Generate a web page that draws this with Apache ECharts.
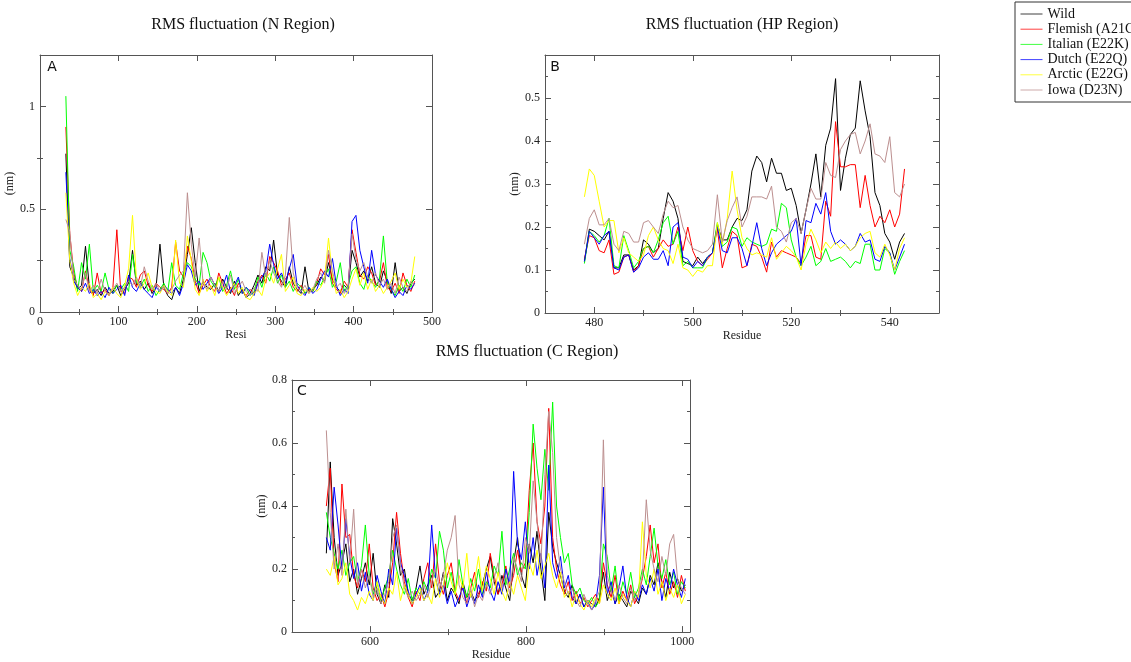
<!DOCTYPE html>
<html>
<head>
<meta charset="utf-8" />
<title>RMS fluctuation</title>
<script type="text/javascript" src="https://cdn.jsdelivr.net/npm/echarts@6/dist/echarts.min.js"></script>
</head>
<body style="margin:0; background:#fff;">
<div id="container" style="width:1131px; height:662px;"></div>
<script type="text/javascript">
// series names and colours (Grace defaults)
var names = ['Wild', 'Flemish (A21G)', 'Italian (E22K)', 'Dutch (E22Q)', 'Arctic (E22G)', 'Iowa (D23N)'];
var colors = ['#000000', '#ff0000', '#00ff00', '#0000ff', '#ffff00', '#bc8f8f'];

// ---- panel A : N region ----
var resA = [33,38,43,48,53,58,63,68,73,78,83,88,93,98,103,108,113,118,123,128,133,138,143,148,153,158,163,168,173,178,
  183,188,193,198,203,208,213,218,223,228,233,238,243,248,253,258,263,268,273,278,283,288,293,298,303,308,313,318,323,328,
  333,338,343,348,353,358,363,368,373,378,383,388,393,398,403,408,413,418,423,428,433,438,443,448,453,458,463,468,473,478];
var wildA = [0.77,0.22,0.17,0.11,0.13,0.32,0.12,0.09,0.11,0.08, 0.12,0.09,0.10,0.13,0.08,0.11,0.14,0.30,0.13,0.15,
  0.11,0.14,0.09,0.12,0.33,0.12,0.08,0.06,0.12,0.09, 0.16,0.28,0.41,0.24,0.10,0.15,0.12,0.11,0.14,0.10,
  0.16,0.12,0.09,0.15,0.08,0.11,0.07,0.09,0.13,0.18, 0.14,0.22,0.20,0.35,0.18,0.15,0.12,0.22,0.14,0.11,
  0.09,0.22,0.10,0.11,0.13,0.17,0.15,0.24,0.16,0.12, 0.10,0.13,0.11,0.30,0.24,0.17,0.20,0.15,0.22,0.14,
  0.12,0.20,0.15,0.09,0.24,0.10,0.12,0.09,0.14,0.16];
var flemishA = [0.90,0.38,0.19,0.12,0.10,0.20,0.11,0.08,0.19,0.09, 0.11,0.08,0.12,0.40,0.10,0.09,0.17,0.16,0.12,0.18,
  0.20,0.13,0.10,0.14,0.12,0.11,0.09,0.12,0.34,0.20, 0.17,0.32,0.26,0.15,0.09,0.13,0.16,0.12,0.10,0.19,
  0.14,0.09,0.12,0.08,0.14,0.10,0.08,0.11,0.09,0.15, 0.18,0.14,0.27,0.24,0.20,0.13,0.16,0.19,0.12,0.10,
  0.13,0.09,0.11,0.10,0.14,0.21,0.18,0.28,0.14,0.11, 0.09,0.15,0.12,0.40,0.29,0.18,0.16,0.22,0.19,0.13,
  0.15,0.24,0.12,0.10,0.14,0.09,0.19,0.13,0.10,0.15];
var italianA = [1.05,0.30,0.22,0.10,0.24,0.16,0.33,0.10,0.13,0.10, 0.19,0.11,0.09,0.13,0.11,0.14,0.10,0.28,0.15,0.12,
  0.16,0.10,0.13,0.08,0.11,0.14,0.10,0.24,0.13,0.11, 0.19,0.24,0.22,0.16,0.13,0.29,0.24,0.15,0.12,0.17,
  0.10,0.13,0.20,0.11,0.16,0.09,0.12,0.08,0.10,0.17, 0.12,0.19,0.15,0.22,0.14,0.18,0.12,0.15,0.10,0.14,
  0.12,0.09,0.12,0.10,0.15,0.13,0.17,0.21,0.12,0.15, 0.24,0.10,0.13,0.20,0.22,0.14,0.11,0.18,0.15,0.12,
  0.16,0.37,0.14,0.11,0.08,0.13,0.10,0.16,0.12,0.18];
var dutchA = [0.68,0.26,0.15,0.12,0.10,0.14,0.09,0.11,0.08,0.10, 0.07,0.12,0.09,0.11,0.13,0.08,0.18,0.12,0.10,0.14,
  0.11,0.09,0.07,0.12,0.10,0.13,0.11,0.09,0.12,0.08, 0.14,0.23,0.20,0.13,0.15,0.11,0.14,0.17,0.13,0.09,
  0.12,0.18,0.10,0.13,0.17,0.09,0.12,0.10,0.08,0.14, 0.17,0.20,0.33,0.23,0.16,0.19,0.14,0.21,0.28,0.13,
  0.10,0.08,0.12,0.09,0.11,0.16,0.20,0.17,0.26,0.13, 0.08,0.11,0.09,0.44,0.47,0.30,0.22,0.14,0.30,0.18,
  0.15,0.12,0.16,0.11,0.07,0.10,0.08,0.13,0.11,0.14];
var arcticA = [0.58,0.25,0.14,0.08,0.12,0.10,0.14,0.07,0.09,0.06, 0.10,0.08,0.12,0.09,0.07,0.13,0.21,0.47,0.16,0.11,
  0.14,0.19,0.12,0.10,0.09,0.13,0.10,0.08,0.35,0.14, 0.12,0.37,0.25,0.11,0.08,0.16,0.10,0.13,0.08,0.17,
  0.12,0.08,0.11,0.14,0.09,0.12,0.07,0.06,0.09,0.11, 0.08,0.16,0.19,0.14,0.21,0.28,0.10,0.13,0.17,0.09,
  0.08,0.11,0.09,0.12,0.10,0.12,0.16,0.36,0.18,0.09, 0.11,0.07,0.10,0.16,0.21,0.13,0.19,0.11,0.16,0.10,
  0.13,0.09,0.12,0.15,0.19,0.11,0.16,0.12,0.14,0.27];
var iowaA = [0.45,0.39,0.16,0.13,0.11,0.19,0.10,0.13,0.09,0.16, 0.10,0.08,0.11,0.14,0.10,0.12,0.15,0.13,0.17,0.12,
  0.22,0.15,0.11,0.14,0.10,0.12,0.09,0.11,0.15,0.18, 0.20,0.58,0.33,0.17,0.36,0.14,0.11,0.17,0.13,0.10,
  0.15,0.11,0.18,0.09,0.12,0.15,0.10,0.08,0.12,0.10, 0.29,0.17,0.25,0.19,0.15,0.12,0.18,0.46,0.19,0.12,
  0.10,0.13,0.09,0.11,0.16,0.19,0.14,0.30,0.20,0.12, 0.14,0.09,0.12,0.38,0.26,0.20,0.24,0.17,0.14,0.19,
  0.13,0.16,0.11,0.14,0.09,0.17,0.12,0.10,0.15,0.13];

// ---- panel B : HP region ----
var resB = [478,479,480,481,482,483,484,485,486,487,488,489,490,491,492,493,494,495,496,497,498,499,500,501,502,503,504,505,
  506,507,508,509,510,511,512,513,514,515,516,517,518,519,520,521,522,523,524,525,526,527,528,529,530,531,532,533,534,535,
  536,537,538,539,540,541,542,543];
var wildB = [0.12,0.195,0.19,0.18,0.17,0.19,0.105,0.105,0.135,0.135, 0.10,0.11,0.17,0.16,0.14,0.15,0.22,0.28,0.26,0.22,
  0.12,0.115,0.11,0.13,0.115,0.13,0.14,0.205,0.17,0.17, 0.20,0.22,0.215,0.24,0.33,0.365,0.35,0.305,0.36,0.325,
  0.325,0.285,0.29,0.25,0.185,0.24,0.30,0.37,0.27,0.39, 0.43,0.545,0.285,0.36,0.415,0.43,0.54,0.47,0.41,0.28,
  0.25,0.185,0.165,0.125,0.165,0.185];
var flemishB = [0.125,0.18,0.175,0.145,0.14,0.17,0.09,0.095,0.13,0.135, 0.095,0.11,0.15,0.155,0.13,0.15,0.17,0.155,0.16,0.20,
  0.145,0.20,0.145,0.12,0.11,0.125,0.14,0.195,0.105,0.15, 0.19,0.18,0.105,0.11,0.16,0.155,0.13,0.095,0.165,0.13,
  0.145,0.14,0.135,0.13,0.115,0.18,0.18,0.13,0.125,0.26, 0.225,0.445,0.34,0.34,0.345,0.345,0.245,0.32,0.25,0.20,
  0.225,0.21,0.24,0.20,0.23,0.335];
var italianB = [0.115,0.19,0.18,0.165,0.18,0.22,0.11,0.105,0.18,0.145, 0.105,0.12,0.15,0.155,0.14,0.17,0.21,0.225,0.16,0.19,
  0.11,0.12,0.105,0.105,0.105,0.13,0.14,0.21,0.155,0.165, 0.20,0.195,0.155,0.175,0.165,0.16,0.155,0.16,0.195,0.19,
  0.255,0.245,0.17,0.13,0.11,0.13,0.155,0.11,0.12,0.15, 0.12,0.125,0.13,0.12,0.105,0.12,0.115,0.16,0.16,0.10,
  0.10,0.15,0.14,0.09,0.12,0.145];
var dutchB = [0.12,0.19,0.175,0.16,0.18,0.19,0.105,0.10,0.13,0.135, 0.095,0.105,0.13,0.14,0.125,0.125,0.145,0.11,0.20,0.21,
  0.13,0.125,0.105,0.12,0.11,0.13,0.14,0.20,0.145,0.14, 0.175,0.175,0.15,0.11,0.155,0.21,0.15,0.11,0.14,0.16,
  0.17,0.18,0.19,0.22,0.11,0.215,0.21,0.255,0.23,0.28, 0.19,0.16,0.17,0.16,0.145,0.155,0.185,0.165,0.17,0.125,
  0.12,0.155,0.14,0.10,0.13,0.16];
var arcticB = [0.27,0.335,0.32,0.26,0.20,0.215,0.215,0.14,0.175,0.14, 0.13,0.12,0.135,0.18,0.20,0.17,0.15,0.145,0.115,0.16,
  0.105,0.10,0.085,0.10,0.095,0.11,0.11,0.21,0.16,0.22, 0.33,0.24,0.175,0.15,0.135,0.14,0.135,0.13,0.175,0.125,
  0.14,0.155,0.145,0.13,0.10,0.16,0.195,0.17,0.14,0.165, 0.15,0.165,0.15,0.16,0.145,0.155,0.175,0.185,0.19,0.14,
  0.13,0.16,0.135,0.10,0.15,0.175];
var iowaB = [0.16,0.22,0.24,0.205,0.205,0.22,0.16,0.145,0.19,0.185, 0.165,0.165,0.21,0.215,0.20,0.185,0.23,0.26,0.245,0.25,
  0.20,0.17,0.15,0.145,0.14,0.145,0.16,0.275,0.165,0.215, 0.245,0.27,0.20,0.225,0.27,0.27,0.27,0.265,0.295,0.20,
  0.19,0.165,0.21,0.22,0.185,0.24,0.29,0.265,0.265,0.35, 0.32,0.315,0.38,0.40,0.415,0.42,0.37,0.40,0.44,0.37,
  0.365,0.35,0.41,0.28,0.27,0.30];

// ---- panel C : C region ----
var resC = [544,549,554,559,564,569,574,579,584,589,594,599,604,609,614,619,624,629,634,639,644,649,654,659,664,669,674,679,
  684,689,694,699,704,709,714,719,724,729,734,739,744,749,754,759,764,769,774,779,784,789,794,799,804,809,814,819,824,829,
  834,839,844,849,854,859,864,869,874,879,884,889,894,899,904,909,914,919,924,929,934,939,944,949,954,959,964,969,974,979,
  984,989,994,999,1004];
var wildC = [0.25,0.54,0.30,0.18,0.22,0.28,0.16,0.20,0.12,0.17, 0.22,0.15,0.25,0.12,0.09,0.15,0.11,0.36,0.28,0.18,
  0.20,0.12,0.10,0.14,0.21,0.12,0.15,0.18,0.11,0.13, 0.19,0.10,0.14,0.12,0.09,0.16,0.11,0.13,0.10,0.12,
  0.15,0.20,0.24,0.16,0.12,0.18,0.14,0.10,0.22,0.30, 0.18,0.14,0.28,0.22,0.32,0.20,0.10,0.38,0.27,0.22,
  0.18,0.13,0.11,0.15,0.09,0.12,0.08,0.10,0.09,0.08, 0.11,0.19,0.10,0.14,0.09,0.12,0.10,0.08,0.13,0.11,
  0.09,0.14,0.12,0.18,0.15,0.22,0.16,0.11,0.19,0.14, 0.17,0.13,0.15];
var flemishC = [0.40,0.52,0.22,0.16,0.47,0.30,0.31,0.18,0.14,0.20, 0.16,0.28,0.14,0.10,0.12,0.08,0.13,0.22,0.38,0.25,
  0.16,0.11,0.08,0.13,0.10,0.17,0.22,0.14,0.28,0.16, 0.12,0.18,0.22,0.13,0.10,0.15,0.09,0.14,0.19,0.11,
  0.16,0.13,0.25,0.18,0.12,0.15,0.21,0.14,0.18,0.26, 0.19,0.22,0.45,0.60,0.35,0.28,0.40,0.71,0.30,0.20,
  0.15,0.12,0.16,0.10,0.13,0.09,0.11,0.08,0.10,0.12, 0.09,0.22,0.15,0.11,0.18,0.09,0.13,0.10,0.15,0.09,
  0.12,0.17,0.24,0.34,0.22,0.28,0.14,0.19,0.12,0.16, 0.11,0.18,0.13];
var italianC = [0.38,0.30,0.25,0.20,0.26,0.18,0.22,0.24,0.16,0.21, 0.34,0.18,0.12,0.16,0.10,0.14,0.18,0.26,0.20,0.15,
  0.12,0.17,0.10,0.14,0.12,0.16,0.13,0.20,0.17,0.32, 0.26,0.14,0.19,0.12,0.23,0.15,0.11,0.17,0.13,0.20,
  0.12,0.16,0.14,0.21,0.18,0.32,0.15,0.20,0.25,0.18, 0.22,0.20,0.38,0.66,0.52,0.42,0.58,0.45,0.73,0.40,
  0.30,0.22,0.25,0.15,0.12,0.14,0.10,0.09,0.11,0.08, 0.10,0.28,0.24,0.13,0.21,0.10,0.16,0.12,0.19,0.11,
  0.14,0.20,0.15,0.24,0.33,0.21,0.17,0.23,0.15,0.19, 0.12,0.16,0.14];
var dutchC = [0.30,0.26,0.46,0.34,0.20,0.36,0.24,0.17,0.22,0.13, 0.19,0.12,0.10,0.18,0.13,0.09,0.20,0.15,0.33,0.22,
  0.18,0.13,0.09,0.12,0.15,0.10,0.13,0.34,0.17,0.12, 0.15,0.09,0.13,0.08,0.11,0.14,0.08,0.12,0.09,0.15,
  0.11,0.19,0.13,0.10,0.16,0.12,0.20,0.15,0.51,0.28, 0.23,0.35,0.20,0.30,0.18,0.25,0.14,0.53,0.22,0.17,
  0.24,0.14,0.18,0.11,0.09,0.12,0.08,0.10,0.07,0.09, 0.18,0.46,0.12,0.16,0.09,0.14,0.21,0.11,0.08,0.13,
  0.10,0.15,0.12,0.17,0.13,0.20,0.10,0.17,0.13,0.20, 0.15,0.11,0.17];
var arcticC = [0.20,0.18,0.24,0.15,0.17,0.22,0.12,0.10,0.07,0.11, 0.09,0.13,0.10,0.16,0.11,0.09,0.14,0.12,0.19,0.10,
  0.15,0.12,0.09,0.11,0.14,0.10,0.12,0.09,0.17,0.11, 0.15,0.22,0.16,0.12,0.18,0.14,0.25,0.11,0.16,0.24,
  0.13,0.21,0.17,0.12,0.19,0.13,0.10,0.16,0.12,0.18, 0.14,0.10,0.22,0.18,0.26,0.17,0.21,0.25,0.18,0.14,
  0.19,0.11,0.13,0.08,0.12,0.09,0.07,0.10,0.08,0.11, 0.09,0.15,0.12,0.10,0.14,0.09,0.12,0.10,0.08,0.13,
  0.11,0.35,0.18,0.14,0.20,0.12,0.16,0.10,0.14,0.11, 0.15,0.09,0.12];
var iowaC = [0.64,0.38,0.20,0.28,0.18,0.39,0.22,0.39,0.15,0.20, 0.14,0.18,0.11,0.14,0.09,0.12,0.16,0.30,0.34,0.21,
  0.14,0.11,0.13,0.10,0.12,0.15,0.11,0.16,0.20,0.14, 0.18,0.26,0.30,0.37,0.15,0.11,0.09,0.14,0.08,0.12,
  0.10,0.15,0.12,0.17,0.22,0.14,0.18,0.12,0.24,0.20, 0.16,0.30,0.25,0.48,0.35,0.22,0.50,0.70,0.57,0.30,
  0.20,0.16,0.12,0.14,0.10,0.08,0.12,0.09,0.07,0.10, 0.13,0.61,0.18,0.13,0.10,0.15,0.11,0.09,0.14,0.10,
  0.12,0.18,0.42,0.26,0.20,0.16,0.24,0.18,0.28,0.31, 0.17,0.14,0.12];

var serif = '"Liberation Serif", "DejaVu Serif", "Times New Roman", serif';
var frame = '#555';

// four axes per dimension: main line + major ticks, minor ticks, mirrored on the opposite side
function boxAxes(dim, grid, min, max, major, minor, labels, name, nameGap) {
  var sides = dim === 'x' ? ['bottom', 'top'] : ['left', 'right'];
  var out = [];
  sides.forEach(function (side, k) {
    out.push({
      type: 'value', gridIndex: grid, position: side, min: min, max: max,
      splitLine: { show: false },
      axisLine: { show: true, onZero: false, lineStyle: { color: frame, width: 1 } },
      axisTick: { show: true, inside: true, length: 6, customValues: major, lineStyle: { color: frame } },
      axisLabel: k === 0 ? {
        show: true, customValues: labels, color: '#222', fontFamily: serif, fontSize: 12,
        margin: dim === 'x' ? 4 : 5,
        formatter: function (v) { return String(v); }
      } : { show: false },
      name: k === 0 ? name : '',
      nameLocation: 'middle',
      nameGap: nameGap,
      nameTextStyle: { fontFamily: serif, fontSize: 12, color: '#222' }
    });
    out.push({
      type: 'value', gridIndex: grid, position: side, min: min, max: max,
      splitLine: { show: false },
      axisLine: { show: false },
      axisTick: { show: true, inside: true, length: 3, customValues: minor, lineStyle: { color: frame } },
      axisLabel: { show: false }
    });
  });
  return out;
}

var xAxes = [].concat(
  boxAxes('x', 0, 0, 500, [0, 100, 200, 300, 400, 500], [50, 150, 250, 350, 450], [0, 100, 200, 300, 400, 500], 'Resi', 12),
  boxAxes('x', 1, 470, 550, [480, 500, 520, 540], [490, 510, 530], [480, 500, 520, 540], 'Residue', 12),
  boxAxes('x', 2, 500, 1010, [600, 800, 1000], [700, 900], [600, 800, 1000], 'Residue', 11)
);
var yAxes = [].concat(
  boxAxes('y', 0, 0, 1.25, [0, 0.5, 1], [0.25, 0.75], [0, 0.5, 1], '(nm)', 19),
  boxAxes('y', 1, 0, 0.6, [0, 0.1, 0.2, 0.3, 0.4, 0.5], [0.05, 0.15, 0.25, 0.35, 0.45, 0.55], [0, 0.1, 0.2, 0.3, 0.4, 0.5], '(nm)', 19),
  boxAxes('y', 2, 0, 0.8, [0, 0.2, 0.4, 0.6, 0.8], [0.1, 0.3, 0.5, 0.7], [0, 0.2, 0.4, 0.6, 0.8], '(nm)', 18)
);

var panels = [
  { axis: 0, res: resA, vals: [wildA, flemishA, italianA, dutchA, arcticA, iowaA] },
  { axis: 4, res: resB, vals: [wildB, flemishB, italianB, dutchB, arcticB, iowaB] },
  { axis: 8, res: resC, vals: [wildC, flemishC, italianC, dutchC, arcticC, iowaC] }
];

var series = [];
panels.forEach(function (p) {
  p.vals.forEach(function (vals, k) {
    series.push({
      type: 'line',
      name: names[k],
      xAxisIndex: p.axis,
      yAxisIndex: p.axis,
      symbol: 'none',
      lineStyle: { width: 1, color: colors[k] },
      itemStyle: { color: colors[k] },
      data: p.res.map(function (r, i) { return [r, vals[i]]; })
    });
  });
});

function textEl(x, y, text, font, size) {
  return {
    type: 'text', x: x, y: y,
    style: { text: text, fontFamily: font, fontSize: size, fill: '#111', textAlign: 'center', textVerticalAlign: 'middle' }
  };
}

var chart = echarts.init(document.getElementById('container'));
chart.setOption({
  backgroundColor: '#ffffff',
  animation: false,
  grid: [
    { left: 40, top: 55, width: 392, height: 257 },
    { left: 545, top: 55, width: 394, height: 258 },
    { left: 292, top: 380, width: 398, height: 258 }
  ],
  xAxis: xAxes,
  yAxis: yAxes,
  legend: {
    data: names,
    orient: 'vertical',
    left: 1015,
    top: 2,
    padding: [5, 12, 5, 5],
    itemWidth: 22,
    itemHeight: 14,
    itemGap: 1.2,
    borderColor: '#333',
    borderWidth: 1,
    itemStyle: { opacity: 0 },
    lineStyle: { width: 1, opacity: 0.75 },
    textStyle: { fontFamily: serif, fontSize: 14, color: '#111', lineHeight: 14 }
  },
  graphic: [
    textEl(243, 25, 'RMS fluctuation (N Region)', serif, 16),
    textEl(742, 25, 'RMS fluctuation (HP Region)', serif, 16),
    textEl(527, 352, 'RMS fluctuation (C Region)', serif, 16),
    textEl(52, 67, 'A', '"DejaVu Sans", sans-serif', 14),
    textEl(555, 67, 'B', '"DejaVu Sans", sans-serif', 14),
    textEl(302, 391, 'C', '"DejaVu Sans", sans-serif', 14)
  ],
  series: series
});
</script>
</body>
</html>
